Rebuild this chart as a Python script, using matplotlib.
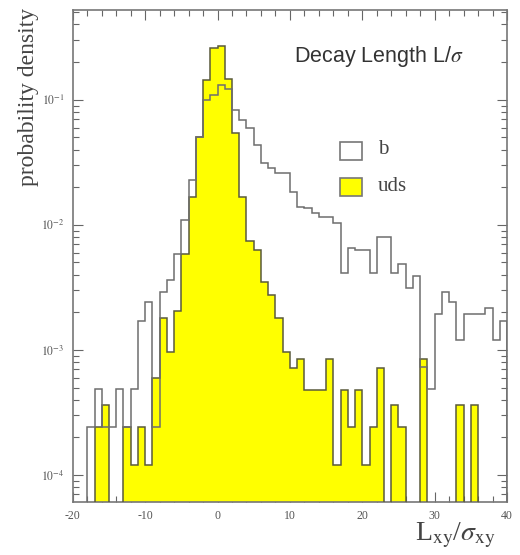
import matplotlib
matplotlib.use('Agg')
import matplotlib.pyplot as plt
import numpy as np
from matplotlib.patches import Rectangle
from matplotlib.ticker import LogLocator, MultipleLocator, NullFormatter, FixedLocator

plt.rcParams.update({
    'font.family': 'Liberation Serif',
    'mathtext.fontset': 'stix',
    'axes.unicode_minus': False,
    'xtick.direction': 'in',
    'ytick.direction': 'in',
    'xtick.top': True,
    'ytick.right': True,
})

# 1-unit bins of L_xy / sigma_xy from -20 to 40
bin_edges = np.arange(-20, 41)

# entries per bin, bins -20 ... 39
counts_b = [0, 0, 1, 2, 1, 1, 2, 1, 2, 7,
            10, 1, 12, 15, 24, 45, 94, 208, 410, 455,
            545, 500, 344, 286, 246, 180, 130, 118, 108, 108,
            76, 57, 56, 51, 48, 48, 43, 17, 27, 26,
            26, 17, 33, 33, 17, 20, 13, 16, 3, 2,
            8, 12, 10, 5, 8, 8, 8, 9, 5, 7]
counts_uds = [0, 0, 0, 2, 3, 0, 0, 2, 1, 2,
              1, 5, 15, 8, 17, 49, 139, 421, 1200, 2170,
              2250, 1230, 455, 140, 62, 52, 29, 23, 15, 8,
              6, 7, 4, 4, 4, 7, 1, 4, 2, 4,
              1, 2, 6, 0, 3, 2, 0, 0, 7, 0,
              0, 0, 0, 3, 0, 3, 0, 0, 0, 0]
# total events per sample (includes over/underflow)
n_total_b = 4130
n_total_uds = 8320

dens_b = np.array(counts_b) / n_total_b
dens_uds = np.array(counts_uds) / n_total_uds

fig = plt.figure(figsize=(5.2, 5.55), dpi=100)
ax = fig.add_axes([0.140, 0.0955, 0.835, 0.887])

floor = 1e-7
ax.stairs(dens_uds, bin_edges, fill=True, baseline=floor, color='#ffff00', zorder=2)
ax.stairs(dens_uds, bin_edges, baseline=floor, color='#5a5a3c', lw=1.1, zorder=3)
ax.stairs(dens_b, bin_edges, baseline=floor, color='#6e6e6e', lw=1.1, zorder=4)

ax.set_yscale('log')
ax.set_xlim(-20, 40)
ax.set_ylim(6.08e-5, 0.525)

ax.xaxis.set_major_locator(MultipleLocator(10))
ax.xaxis.set_minor_locator(MultipleLocator(2))
ax.yaxis.set_major_locator(FixedLocator([1e-4, 1e-3, 1e-2, 1e-1]))
ax.yaxis.set_minor_locator(LogLocator(base=10, subs=np.arange(2, 10)))
ax.yaxis.set_minor_formatter(NullFormatter())
ax.set_yticklabels([r'$10^{-4}$', r'$10^{-3}$', r'$10^{-2}$', r'$10^{-1}$'])

ax.tick_params(which='major', length=7, width=0.8, color='#666666', labelsize=8.5,
               labelcolor='#555555', pad=6)
ax.tick_params(which='minor', length=4, width=0.8, color='#666666')
for s in ax.spines.values():
    s.set_color('#777777')
    s.set_linewidth(1.2)

fig.text(0.055, 0.985, 'probability density', rotation=90, ha='center', va='top',
         fontsize=17, color='#444444')
fig.text(0.875, 0.035, r'L$_{\rm xy}$/$\sigma_{\rm xy}$', ha='center', va='center',
         fontsize=20, color='#444444')

ax.text(0.705, 0.904, r'Decay Length L/$\sigma$', transform=ax.transAxes, ha='center',
        va='center', fontsize=15.5, family='Liberation Sans', color='#333333')

# legend boxes
ax.add_patch(Rectangle((0.615, 0.695), 0.0507, 0.0366, transform=ax.transAxes,
                       facecolor='white', edgecolor='#777777', lw=1.2, zorder=5))
ax.add_patch(Rectangle((0.615, 0.621), 0.0507, 0.0366, transform=ax.transAxes,
                       facecolor='#ffff00', edgecolor='#777777', lw=1.2, zorder=5))
ax.text(0.703, 0.716, 'b', transform=ax.transAxes, ha='left', va='center',
        fontsize=15, color='#444444')
ax.text(0.703, 0.640, 'uds', transform=ax.transAxes, ha='left', va='center',
        fontsize=15, color='#444444')

fig.savefig('out.png', dpi=100, facecolor='white')
